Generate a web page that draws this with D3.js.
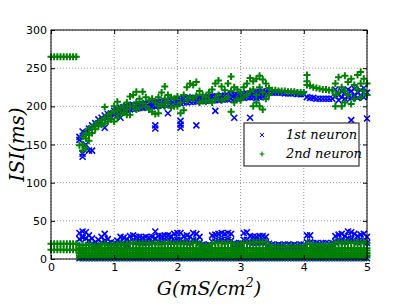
<!DOCTYPE html>
<meta charset="utf-8">
<script src="https://d3js.org/d3.v7.min.js"></script>
<style>
  body { margin: 0; background: #fff; }
  .tick text { font-family: "DejaVu Sans", sans-serif; font-size: 11px; fill: #000; }
</style>
<body>
<div id="chart"></div>
<script>
// G values (mS/cm^2), one per column of the sweep
const G = [
  0, 0.05, 0.1, 0.15, 0.2, 0.25, 0.3, 0.35, 0.4, 0.45,
  0.5, 0.55, 0.6, 0.65, 0.7, 0.75, 0.8, 0.85, 0.9, 0.95,
  1, 1.05, 1.1, 1.15, 1.2, 1.25, 1.3, 1.35, 1.4, 1.45,
  1.5, 1.55, 1.6, 1.65, 1.7, 1.75, 1.8, 1.85, 1.9, 1.95,
  2, 2.05, 2.1, 2.15, 2.2, 2.25, 2.3, 2.35, 2.4, 2.45,
  2.5, 2.55, 2.6, 2.65, 2.7, 2.75, 2.8, 2.85, 2.9, 2.95,
  3, 3.05, 3.1, 3.15, 3.2, 3.25, 3.3, 3.35, 3.4, 3.45,
  3.5, 3.55, 3.6, 3.65, 3.7, 3.75, 3.8, 3.85, 3.9, 3.95,
  4, 4.05, 4.1, 4.15, 4.2, 4.25, 4.3, 4.35, 4.4, 4.45,
  4.5, 4.55, 4.6, 4.65, 4.7, 4.75, 4.8, 4.85, 4.9, 4.95,
  5
];

// 1st neuron, long ISIs (ms)
const isi1High = [
  [], [], [], [], [], [], [], [], [], [160,156],
  [167,138,134], [165,150], [171,142], [175,142], [178], [183,178], [185,180], [188,172], [190,185], [191,186],
  [194,189], [196,191], [198,193,185], [199,194], [200,195], [201,196], [202,197], [202,197], [203,198], [203,198],
  [204,199], [204,199], [205,200], [205,200,175,171], [206,201], [206,201], [207,202], [207,202,191], [208,203], [208,203],
  [209,204], [209,204,181,176,172], [210,205], [210,205], [211,206], [211,206], [211,206,175], [212,207], [212,207], [212,207],
  [212,207], [213,208], [213,208,194], [213,208], [214,209], [214,209], [214,209], [215,210], [215,210,185], [215,210],
  [216,211], [216,211], [217,212], [217,212,185], [218,212], [219,211], [219,212], [220,213], [219,212], [218],
  [218], [218], [218], [218], [217], [217], [217], [217], [216], [216],
  [216], [212], [211], [211], [210], [210], [210], [210], [210], [210],
  [222,213], [215,208], [220,212], [218,210], [222,212], [220,211,182], [223,213], [219,211], [221,214], [224,212],
  [218,184]
];

// 2nd neuron, long ISIs (ms)
const isi2High = [
  [265], [265], [265], [265], [265], [265], [265], [265], [265], [149],
  [160,150,142], [165,158,145], [171,162,155], [172,165], [176,170], [180,174], [182,176], [199,185,178], [189,180], [191,183],
  [200,193,180], [206,195,185], [198,190], [200,192], [205,196,189], [213,200,189], [215,200], [219,205,196], [210,198], [219,204],
  [212,200], [208,196], [210,193], [205,190], [212,200,191], [218,203], [226,210,200], [215,205], [212,198], [210,200],
  [213,200], [205,191], [215,195], [225,208], [230,212], [228,210], [232,214], [220,205], [215,207], [213,206],
  [218,208], [222,205], [230,210], [234,215], [226,208], [221,210], [230,212], [239,220,193], [225,205], [222,210],
  [218,208], [225,212], [230,215], [237,220], [233,222,200], [236,215,205], [240,225,200], [235,218,196], [230,210], [224,215],
  [221], [221], [220], [220], [220], [219], [219], [219], [218], [218],
  [218], [241,233,228], [227], [225], [224], [223], [222], [222], [221], [221],
  [230,215,200], [238,218], [225,200], [240,220,205], [232,215], [236,203], [228,210], [241,222], [245,230,212], [236,220],
  [230,215]
];

// 1st neuron, short ISIs (ms)
const isi1Low = [
  [], [], [], [], [], [], [], [], [], [1,26,34],
  [1,28,36], [1,27,35], [1,24,31], [1,20,27], [1,16,22], [1,18,25], [1,22,29], [1,24,33], [1,20,26], [1,16,22],
  [1,16,21], [1,17,24], [1,22,29], [1,20,28], [1,19,26], [1,23,30], [1,23,31], [1,22,29], [1,22,29], [1,21,28],
  [1,22,29], [1,21,28], [1,22,29], [1,27,36], [1,22,30], [1,22,30], [1,23,31], [1,23,31], [1,22,30], [1,24,33],
  [1,25,34], [1,25,34], [1,22,30], [1,22,31], [1,21,29], [1,25,34], [1,24,33], [1,21,29], [1,14,19], [1,12,18],
  [1,13,19], [1,23,31], [1,23,32], [1,24,33], [1,25,34], [1,24,33], [1,25,34], [1,24,33], [1,14,21], [1,14,20],
  [1,15,21], [1,25,34], [1,25,35], [1,22,30], [1,21,29], [1,21,29], [1,22,30], [1,22,30], [1,21,29], [1,14,20],
  [1,10,14,19], [1,10,14,18], [1,10,14,19], [1,10,14,18], [1,10,14,19], [1,10,14,19], [1,10,14,18], [1,10,14,19], [1,10,14,18], [1,10,14,19],
  [1,10,14,19], [1,22,31], [1,22,31], [1,13,21], [1,13,21], [1,14,20], [1,13,21], [1,14,21], [1,13,20], [1,14,21],
  [1,22,30], [1,23,32], [1,24,33], [1,22,30], [1,27,36], [1,26,35], [1,24,33], [1,22,30], [1,23,32], [1,24,33],
  [1,21,29]
];

// 2nd neuron, short ISIs (ms)
const isi2Low = [
  [12,20], [12,20], [12,20], [12,20], [12,20], [12,20], [12,20], [12,20], [12,20], [2,5,8,11,14,18],
  [2,5,8,11,14,19], [2,5,8,11,14,18], [2,5,8,11,14,19], [2,5,8,11,14,18], [2,5,8,11,14,17], [2,5,8,11,14,18], [2,5,8,11,14,19], [2,5,8,11,14,20], [2,5,8,11,14,18], [2,5,8,11,14,18],
  [2,5,8,11,14,19], [2,5,8,11,14,19], [2,5,8,11,14,20], [2,5,8,11,14,19], [2,5,8,11,14,20], [2,5,8,11,14,20], [2,5,8,11,14,21], [2,5,8,11,14,21], [2,5,8,11,14,20], [2,5,8,11,14,21],
  [2,5,8,11,14,21], [2,5,8,11,14,20], [2,5,8,11,14,20], [2,5,8,11,14,21], [2,5,8,11,14,21], [2,5,8,11,14,20], [2,5,8,11,14,20], [2,5,8,11,14,21], [2,5,8,11,14,21], [2,5,8,11,14,20],
  [2,5,8,11,14,20], [2,5,8,11,14,21], [2,5,8,11,14,21], [2,5,8,11,14,21], [2,5,8,11,14,20], [2,5,8,11,14,21], [2,5,8,11,14,21], [2,5,8,11,14,20], [2,5,8,11,14,18], [2,5,8,11,14,17],
  [2,5,8,11,14,17], [2,5,8,11,14,20], [2,5,8,11,14,21], [2,5,8,11,14,21], [2,5,8,11,14,21], [2,5,8,11,14,20], [2,5,8,11,14,21], [2,5,8,11,14,21], [2,5,8,11,14,19], [2,5,8,11,14,19],
  [2,5,8,11,14,20], [2,5,8,11,14,21], [2,5,8,11,14,21], [2,5,8,11,14,21], [2,5,8,11,14,22], [2,5,8,11,14,22], [2,5,8,11,14,22], [2,5,8,11,14,22], [2,5,8,11,14,22], [2,5,8,11,14,18],
  [2,5,8,11,16], [2,5,8,11,16], [2,5,8,11,16], [2,5,8,11,16], [2,5,8,11,16], [2,5,8,11,16], [2,5,8,11,16], [2,5,8,11,16], [2,5,8,11,16], [2,5,8,11,16],
  [2,5,8,11,16], [2,5,8,11,14,20], [2,5,8,11,14,20], [2,5,8,11,14,18], [2,5,8,11,14,18], [2,5,8,11,14,18], [2,5,8,11,14,18], [2,5,8,11,14,18], [2,5,8,11,14,18], [2,5,8,11,14,18],
  [2,5,8,11,14,22], [2,5,8,11,14,22], [2,5,8,11,14,21], [2,5,8,11,14,22], [2,5,8,11,14,22], [2,5,8,11,14,21], [2,5,8,11,14,22], [2,5,8,11,14,22], [2,5,8,11,14,21], [2,5,8,11,14,22],
  [2,5,8,11,14,21]
];

const xTicks = [0, 1, 2, 3, 4, 5];
const yTicks = [0, 50, 100, 150, 200, 250, 300];
const legendLabels = ["1st neuron", "2nd neuron"];

const W = 407, H = 307;
const margin = { top: 30, right: 40, bottom: 48, left: 51 };

const svg = d3.select("#chart").append("svg")
  .attr("width", W).attr("height", H);

const x = d3.scaleLinear().domain([0, 5]).range([margin.left, W - margin.right]);
const y = d3.scaleLinear().domain([0, 300]).range([H - margin.bottom, margin.top]);

// flatten columns into points
function points(cols) {
  const out = [];
  cols.forEach((vals, i) => vals.forEach(v => out.push({ g: G[i], v: v })));
  return out;
}
const pts1 = points(isi1High).concat(points(isi1Low));
const pts2 = points(isi2High).concat(points(isi2Low));

// grid
svg.append("g").selectAll("line").data(xTicks).join("line")
  .attr("x1", d => x(d)).attr("x2", d => x(d))
  .attr("y1", y(0)).attr("y2", y(300))
  .attr("stroke", "#999").attr("stroke-dasharray", "1,2");
svg.append("g").selectAll("line").data(yTicks).join("line")
  .attr("x1", x(0)).attr("x2", x(5))
  .attr("y1", d => y(d)).attr("y2", d => y(d))
  .attr("stroke", "#999").attr("stroke-dasharray", "1,2");

const crossPath = "M-3,-3L3,3M-3,3L3,-3";
const plusPath = "M-3.5,0H3.5M0,-3.5V3.5";

const plot = svg.append("g");
plot.append("g").selectAll("path").data(pts1).join("path")
  .attr("d", crossPath)
  .attr("transform", d => `translate(${x(d.g)},${y(d.v)})`)
  .attr("stroke", "#0000ff").attr("stroke-width", 1.6).attr("fill", "none");
plot.append("g").selectAll("path").data(pts2).join("path")
  .attr("d", plusPath)
  .attr("transform", d => `translate(${x(d.g)},${y(d.v)})`)
  .attr("stroke", "#008000").attr("stroke-width", 2).attr("fill", "none");

// axes with inward ticks
svg.append("g")
  .attr("transform", `translate(0,${y(0)})`)
  .call(d3.axisBottom(x).tickValues(xTicks).tickFormat(d3.format("d")).tickSizeInner(-4).tickSizeOuter(0).tickPadding(4))
  .call(g => g.select(".domain").remove());
svg.append("g")
  .attr("transform", `translate(${x(0)},0)`)
  .call(d3.axisLeft(y).tickValues(yTicks).tickSizeInner(-4).tickSizeOuter(0).tickPadding(4))
  .call(g => g.select(".domain").remove());
svg.append("g")
  .attr("transform", `translate(0,${y(300)})`)
  .call(d3.axisTop(x).tickValues(xTicks).tickSizeInner(-4).tickSizeOuter(0).tickFormat(""))
  .call(g => g.select(".domain").remove());
svg.append("g")
  .attr("transform", `translate(${x(5)},0)`)
  .call(d3.axisRight(y).tickValues(yTicks).tickSizeInner(-4).tickSizeOuter(0).tickFormat(""))
  .call(g => g.select(".domain").remove());

svg.append("rect")
  .attr("x", x(0)).attr("y", y(300))
  .attr("width", x(5) - x(0)).attr("height", y(0) - y(300))
  .attr("fill", "none").attr("stroke", "#000").attr("stroke-width", 1);

// axis labels
svg.append("text")
  .attr("x", (x(0) + x(5)) / 2).attr("y", 295)
  .attr("text-anchor", "middle")
  .style("font-family", "'DejaVu Serif', serif").style("font-style", "italic").style("font-size", "19px")
  .html('G(mS/cm<tspan dy="-8" font-size="13px">2</tspan><tspan dy="8">)</tspan>');
svg.append("text")
  .attr("transform", `translate(24,${(y(0) + y(300)) / 2}) rotate(-90)`)
  .attr("text-anchor", "middle")
  .style("font-family", "'DejaVu Serif', serif").style("font-style", "italic").style("font-size", "20px")
  .text("ISI(ms)");

// legend
const lg = svg.append("g").attr("transform", "translate(244,123)");
lg.append("rect").attr("width", 115).attr("height", 43)
  .attr("fill", "#fff").attr("stroke", "#333").attr("stroke-width", 1.2);
lg.append("path").attr("d", crossPath).attr("transform", "translate(18,12) scale(0.7)")
  .attr("stroke", "#0000ff").attr("stroke-width", 1.4).attr("fill", "none");
lg.append("path").attr("d", plusPath).attr("transform", "translate(18,31) scale(0.7)")
  .attr("stroke", "#008000").attr("stroke-width", 1.6).attr("fill", "none");
lg.selectAll("text.lab").data(legendLabels).join("text")
  .attr("class", "lab")
  .attr("x", 42).attr("y", (d, i) => 16 + i * 19)
  .style("font-family", "'DejaVu Serif', serif").style("font-style", "italic").style("font-size", "13px")
  .text(d => d);
</script>
</body>
